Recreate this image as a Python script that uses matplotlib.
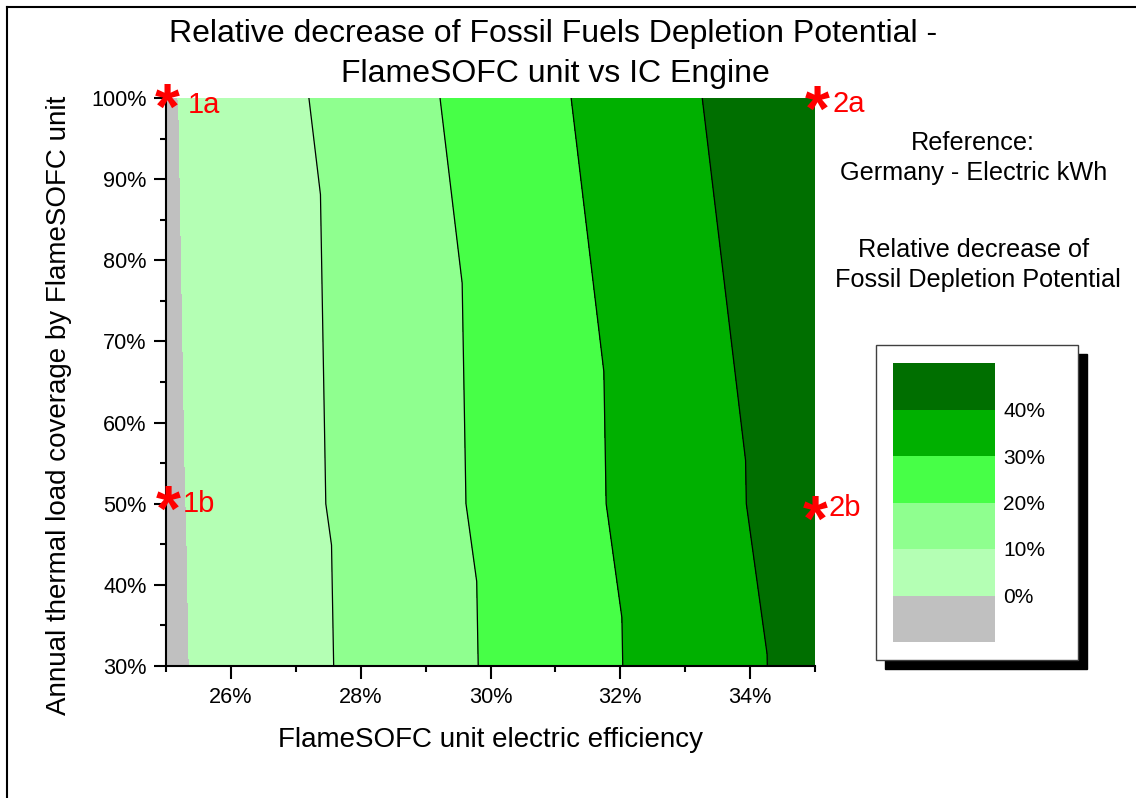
import matplotlib
matplotlib.use('Agg')
import matplotlib.pyplot as plt
import matplotlib.tri as mtri
from matplotlib.patches import Rectangle
from matplotlib.lines import Line2D
from matplotlib.ticker import MultipleLocator, FuncFormatter
import numpy as np

# calculation points: FlameSOFC unit vs IC engine, Germany electric kWh reference
efficiency = [25, 35]            # FlameSOFC unit electric efficiency, %
coverage = [30, 50, 100]         # annual thermal load coverage, %
decrease = [[-1.6, 43.3],        # relative decrease of fossil depletion potential, %
            [-1.4, 44.9],
            [-0.9, 48.6]]

levels = [-10, 0, 10, 20, 30, 40, 60]
band_colors = ['#c0c0c0', '#b4ffb4', '#8fff8f', '#47ff47', '#00b000', '#006f00']
line_levels = [10, 20, 30, 40]
legend_ticks = [0, 10, 20, 30, 40]

point_names = ['1a', '1b', '2a', '2b']
point_eff = [25, 25, 35, 35]
point_cov = [100, 50, 100, 50]

W, H = 1136, 798


def fx(px):
    return px / W


def fy(py):
    return 1 - py / H


plt.rcParams['font.family'] = ['Liberation Sans', 'DejaVu Sans']

fig = plt.figure(figsize=(W / 100, H / 100), dpi=100)
ax = fig.add_axes([fx(166), fy(666), fx(815) - fx(166), fy(98) - fy(666)])

# triangulate the grid with diagonals from upper left to lower right
X, Y = np.meshgrid(efficiency, coverage)
Z = np.array(decrease)
nx = len(efficiency)
tris = []
for j in range(len(coverage) - 1):
    for i in range(nx - 1):
        bl = j * nx + i
        br = bl + 1
        tl = bl + nx
        tr = tl + 1
        tris.append([tl, tr, br])
        tris.append([tl, bl, br])
tri = mtri.Triangulation(X.ravel(), Y.ravel(), tris)

cf = ax.tricontourf(tri, Z.ravel(), levels=levels, colors=band_colors)
ax.tricontour(tri, Z.ravel(), levels=line_levels, colors='k', linewidths=0.9)

ax.set_xlim(25, 35)
ax.set_ylim(30, 100)
for s in ['top', 'right']:
    ax.spines[s].set_visible(False)
for s in ['left', 'bottom']:
    ax.spines[s].set_linewidth(1.5)
pct = FuncFormatter(lambda v, p: '%d%%' % round(v))
ax.xaxis.set_major_locator(MultipleLocator(2))
ax.xaxis.set_minor_locator(MultipleLocator(1))
ax.yaxis.set_major_locator(MultipleLocator(10))
ax.yaxis.set_minor_locator(MultipleLocator(5))
ax.xaxis.set_major_formatter(pct)
ax.yaxis.set_major_formatter(pct)
ax.set_xticks([26, 28, 30, 32, 34])
ax.tick_params(which='major', length=9, width=1.5, labelsize=15.6)
ax.tick_params(which='minor', length=4.5, width=1.5)
ax.tick_params(axis='x', which='major', pad=6)
ax.tick_params(axis='y', which='major', pad=5)

ax.set_xlabel('FlameSOFC unit electric efficiency', fontsize=20, labelpad=14)
fig.text(fx(59), fy(405), 'Annual thermal load coverage by FlameSOFC unit',
         rotation=90, ha='center', va='center', fontsize=20)

# title
fig.text(fx(553), fy(42), 'Relative decrease of Fossil Fuels Depletion Potential -',
         ha='center', va='baseline', fontsize=23)
fig.text(fx(555), fy(82), 'FlameSOFC unit vs IC Engine',
         ha='center', va='baseline', fontsize=23)

# marked points
star_off = [(1.5, -3.5), (2, -7.5), (2, -2), (0.5, 2.5)]
name_off = [(22, 15), (17, 8), (17, 14), (13, 12)]
for k in range(len(point_names)):
    sx, sy = star_off[k]
    ax.annotate('*', xy=(point_eff[k], point_cov[k]), xytext=(sx * 0.72, -sy * 0.72 - 25),
                textcoords='offset points', ha='center', va='baseline',
                fontsize=46, fontweight='bold', color='red', annotation_clip=False)
    lx, ly = name_off[k]
    ax.annotate(point_names[k], xy=(point_eff[k], point_cov[k]), xytext=(lx * 0.72, -ly * 0.72),
                textcoords='offset points', ha='left', va='baseline',
                fontsize=21, color='red', annotation_clip=False)

# notes on the right
fig.text(fx(973), fy(150), 'Reference:', ha='center', va='baseline', fontsize=18.2)
fig.text(fx(974), fy(180), 'Germany - Electric kWh', ha='center', va='baseline', fontsize=18.2)
fig.text(fx(974), fy(257), 'Relative decrease of', ha='center', va='baseline', fontsize=18.2)
fig.text(fx(978), fy(287), 'Fossil Depletion Potential', ha='center', va='baseline', fontsize=18.2)

# legend box with shadow
fig.add_artist(Rectangle((fx(885), fy(669)), fx(1078) - fx(876), fy(345) - fy(660),
                         transform=fig.transFigure, facecolor='black', edgecolor='black', zorder=-2))
fig.add_artist(Rectangle((fx(876), fy(660)), fx(1078) - fx(876), fy(345) - fy(660),
                         transform=fig.transFigure, facecolor='white', edgecolor='#404040',
                         linewidth=1, zorder=-1))

cax = fig.add_axes([fx(893), fy(642), fx(995) - fx(893), fy(363) - fy(642)])
cb = fig.colorbar(cf, cax=cax, ticks=legend_ticks)
cb.outline.set_visible(False)
cax.tick_params(length=0, labelsize=15, pad=6)
cax.set_yticklabels(['%d%%' % t for t in legend_ticks])

# outer frame (left and top edges)
fig.add_artist(Line2D([fx(7), fx(7)], [fy(7), 0], transform=fig.transFigure, color='black', linewidth=1.5))
fig.add_artist(Line2D([fx(7), 1], [fy(7), fy(7)], transform=fig.transFigure, color='black', linewidth=1.5))

fig.savefig('out.png', dpi=100)
